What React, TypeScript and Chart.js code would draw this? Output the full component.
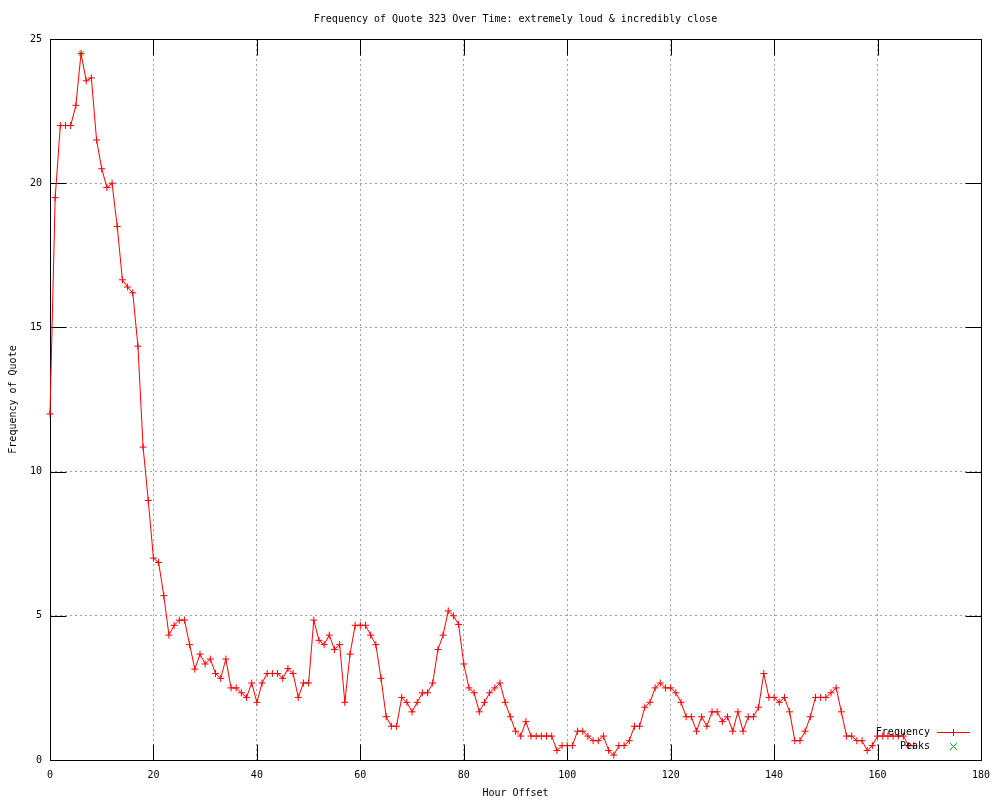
import React, { useEffect, useRef } from "react";
import { Chart, registerables } from "chart.js";

Chart.register(...registerables);

const TITLE = "Frequency of Quote 323 Over Time: extremely loud & incredibly close";
const X_LABEL = "Hour Offset";
const Y_LABEL = "Frequency of Quote";
const SERIES_LABEL = "Frequency";
const PEAKS_LABEL = "Peaks";

const frequency = [
  12.0, 19.5, 22.0, 22.0, 22.0, 22.7, 24.5, 23.55, 23.65, 21.5,
  20.5, 19.85, 20.0, 18.5, 16.65, 16.4, 16.2, 14.35, 10.85, 9.0,
  7.0, 6.85, 5.7, 4.33, 4.67, 4.85, 4.85, 4.0, 3.15, 3.67,
  3.33, 3.5, 3.0, 2.83, 3.5, 2.5, 2.5, 2.33, 2.17, 2.67,
  2.0, 2.67, 3.0, 3.0, 3.0, 2.83, 3.17, 3.0, 2.17, 2.67,
  2.67, 4.85, 4.15, 4.0, 4.33, 3.83, 4.0, 2.0, 3.67, 4.67,
  4.67, 4.67, 4.33, 4.0, 2.83, 1.5, 1.17, 1.17, 2.17, 2.0,
  1.67, 2.0, 2.33, 2.33, 2.67, 3.83, 4.33, 5.17, 5.0, 4.7,
  3.33, 2.5, 2.33, 1.67, 2.0, 2.33, 2.5, 2.67, 2.0, 1.5,
  1.0, 0.83, 1.33, 0.83, 0.83, 0.83, 0.83, 0.83, 0.33, 0.5,
  0.5, 0.5, 1.0, 1.0, 0.83, 0.67, 0.67, 0.83, 0.33, 0.17,
  0.5, 0.5, 0.67, 1.17, 1.17, 1.83, 2.0, 2.5, 2.67, 2.5,
  2.5, 2.33, 2.0, 1.5, 1.5, 1.0, 1.5, 1.17, 1.67, 1.67,
  1.33, 1.5, 1.0, 1.67, 1.0, 1.5, 1.5, 1.83, 3.0, 2.17,
  2.17, 2.0, 2.17, 1.67, 0.67, 0.67, 1.0, 1.5, 2.17, 2.17,
  2.17, 2.33, 2.5, 1.67, 0.83, 0.83, 0.67, 0.67, 0.33, 0.5,
  0.83, 0.83, 0.83, 0.83, 0.83, 0.83, 0.5, 0.5,
];
const hours = frequency.map((_, i) => i);

const peakHours = [6];
const peakValues = [24.5];

const xTicks = [0, 20, 40, 60, 80, 100, 120, 140, 160, 180];
const yTicks = [0, 5, 10, 15, 20, 25];

const FONT_FAMILY = "'DejaVu Sans Mono', 'Liberation Mono', monospace";
const FONT_SIZE = 10;
const RED = "#ff0000";
const GREEN = "#00c000";
const GRID = "#a0a0a0";
const TICK_LEN = 16;
const MARK_R = 3.5;

const framePlugin = {
  id: "gnuplotFrame",
  beforeDatasetsDraw(chart: any) {
    const { ctx, chartArea: a, scales } = chart;
    ctx.save();
    ctx.strokeStyle = "#000";
    ctx.lineWidth = 1;
    ctx.setLineDash([]);
    const L = Math.round(a.left) + 0.5;
    const R = Math.round(a.right) + 0.5;
    const T = Math.round(a.top) + 0.5;
    const B = Math.round(a.bottom) + 0.5;
    ctx.beginPath();
    ctx.rect(L, T, R - L, B - T);
    ctx.stroke();
    ctx.beginPath();
    xTicks.forEach((v) => {
      const px = Math.round(scales.x.getPixelForValue(v)) + 0.5;
      ctx.moveTo(px, B);
      ctx.lineTo(px, B - TICK_LEN);
      ctx.moveTo(px, T);
      ctx.lineTo(px, T + TICK_LEN);
    });
    yTicks.forEach((v) => {
      const py = Math.round(scales.y.getPixelForValue(v)) + 0.5;
      ctx.moveTo(L, py);
      ctx.lineTo(L + TICK_LEN, py);
      ctx.moveTo(R, py);
      ctx.lineTo(R - TICK_LEN, py);
    });
    ctx.stroke();
    ctx.restore();
  },
  afterDraw(chart: any) {
    const { ctx, chartArea: a } = chart;
    const ds = chart.data.datasets;
    ctx.save();
    ctx.font = `${FONT_SIZE}px ${FONT_FAMILY}`;
    ctx.textAlign = "right";
    ctx.textBaseline = "middle";
    const textRight = a.right - 51;
    const sampleL = a.right - 44;
    const sampleR = a.right - 11;
    const cx = (sampleL + sampleR) / 2;
    const rows = [a.bottom - 28, a.bottom - 14];
    ds.forEach((d: any, i: number) => {
      const y = Math.round(rows[i]) + 0.5;
      ctx.fillStyle = "#000";
      ctx.fillText(d.label, textRight, y);
      ctx.strokeStyle = d.borderColor;
      ctx.lineWidth = 1;
      ctx.beginPath();
      if (d.showLine !== false) {
        ctx.moveTo(sampleL, y);
        ctx.lineTo(sampleR, y);
      }
      if (d.pointStyle === "cross") {
        ctx.moveTo(cx, y - MARK_R);
        ctx.lineTo(cx, y + MARK_R);
        ctx.moveTo(cx - MARK_R, y);
        ctx.lineTo(cx + MARK_R, y);
      } else {
        ctx.moveTo(cx - MARK_R, y - MARK_R);
        ctx.lineTo(cx + MARK_R, y + MARK_R);
        ctx.moveTo(cx - MARK_R, y + MARK_R);
        ctx.lineTo(cx + MARK_R, y - MARK_R);
      }
      ctx.stroke();
    });
    ctx.restore();
  },
};

export default function App() {
  const ref = useRef<HTMLCanvasElement | null>(null);

  useEffect(() => {
    if (!ref.current) return;
    const font = { family: FONT_FAMILY, size: FONT_SIZE, weight: "normal" as const, lineHeight: 1.2 };
    const chart = new Chart(ref.current, {
      type: "line",
      data: {
        datasets: [
          {
            label: SERIES_LABEL,
            data: hours.map((h, i) => ({ x: h, y: frequency[i] })),
            borderColor: RED,
            backgroundColor: RED,
            borderWidth: 1,
            pointStyle: "cross",
            pointRadius: MARK_R,
            pointBorderWidth: 1,
            pointBorderColor: RED,
            tension: 0,
            fill: false,
            clip: false,
          },
          {
            label: PEAKS_LABEL,
            data: peakHours.map((h, i) => ({ x: h, y: peakValues[i] })),
            borderColor: GREEN,
            backgroundColor: GREEN,
            showLine: false,
            pointStyle: "crossRot",
            pointRadius: MARK_R,
            pointBorderWidth: 1,
            pointBorderColor: GREEN,
            clip: false,
          },
        ],
      },
      options: {
        responsive: false,
        animation: false,
        events: [],
        layout: { padding: { left: 0, right: 19, top: 0, bottom: 0 } },
        plugins: {
          legend: { display: false },
          tooltip: { enabled: false },
          title: {
            display: true,
            text: TITLE,
            color: "#000",
            font,
            fullSize: false,
            padding: { top: 13, bottom: 14 },
          },
        },
        scales: {
          x: {
            type: "linear",
            min: 0,
            max: 180,
            afterBuildTicks: (s: any) => {
              s.ticks = xTicks.map((v) => ({ value: v }));
            },
            afterFit: (s: any) => {
              s.height = 40;
            },
            ticks: { color: "#000", font, padding: 9, maxRotation: 0, autoSkip: false },
            grid: { color: GRID, lineWidth: 1, drawTicks: false },
            border: { display: false, dash: [2, 3] },
            title: { display: true, text: X_LABEL, color: "#000", font, padding: { top: 0, bottom: 1 } },
          },
          y: {
            type: "linear",
            min: 0,
            max: 25,
            afterBuildTicks: (s: any) => {
              s.ticks = yTicks.map((v) => ({ value: v }));
            },
            afterFit: (s: any) => {
              s.width = 50;
            },
            ticks: { color: "#000", font, padding: 8 },
            grid: { color: GRID, lineWidth: 1, drawTicks: false },
            border: { display: false, dash: [2, 3] },
            title: { display: true, text: Y_LABEL, color: "#000", font, padding: { top: 7, bottom: 7 } },
          },
        },
      },
      plugins: [framePlugin],
    });
    return () => chart.destroy();
  }, []);

  return (
    <div style={{ position: "absolute", left: 0, top: 0, width: 1000, height: 800, background: "#fff" }}>
      <canvas ref={ref} width={1000} height={800} />
    </div>
  );
}
